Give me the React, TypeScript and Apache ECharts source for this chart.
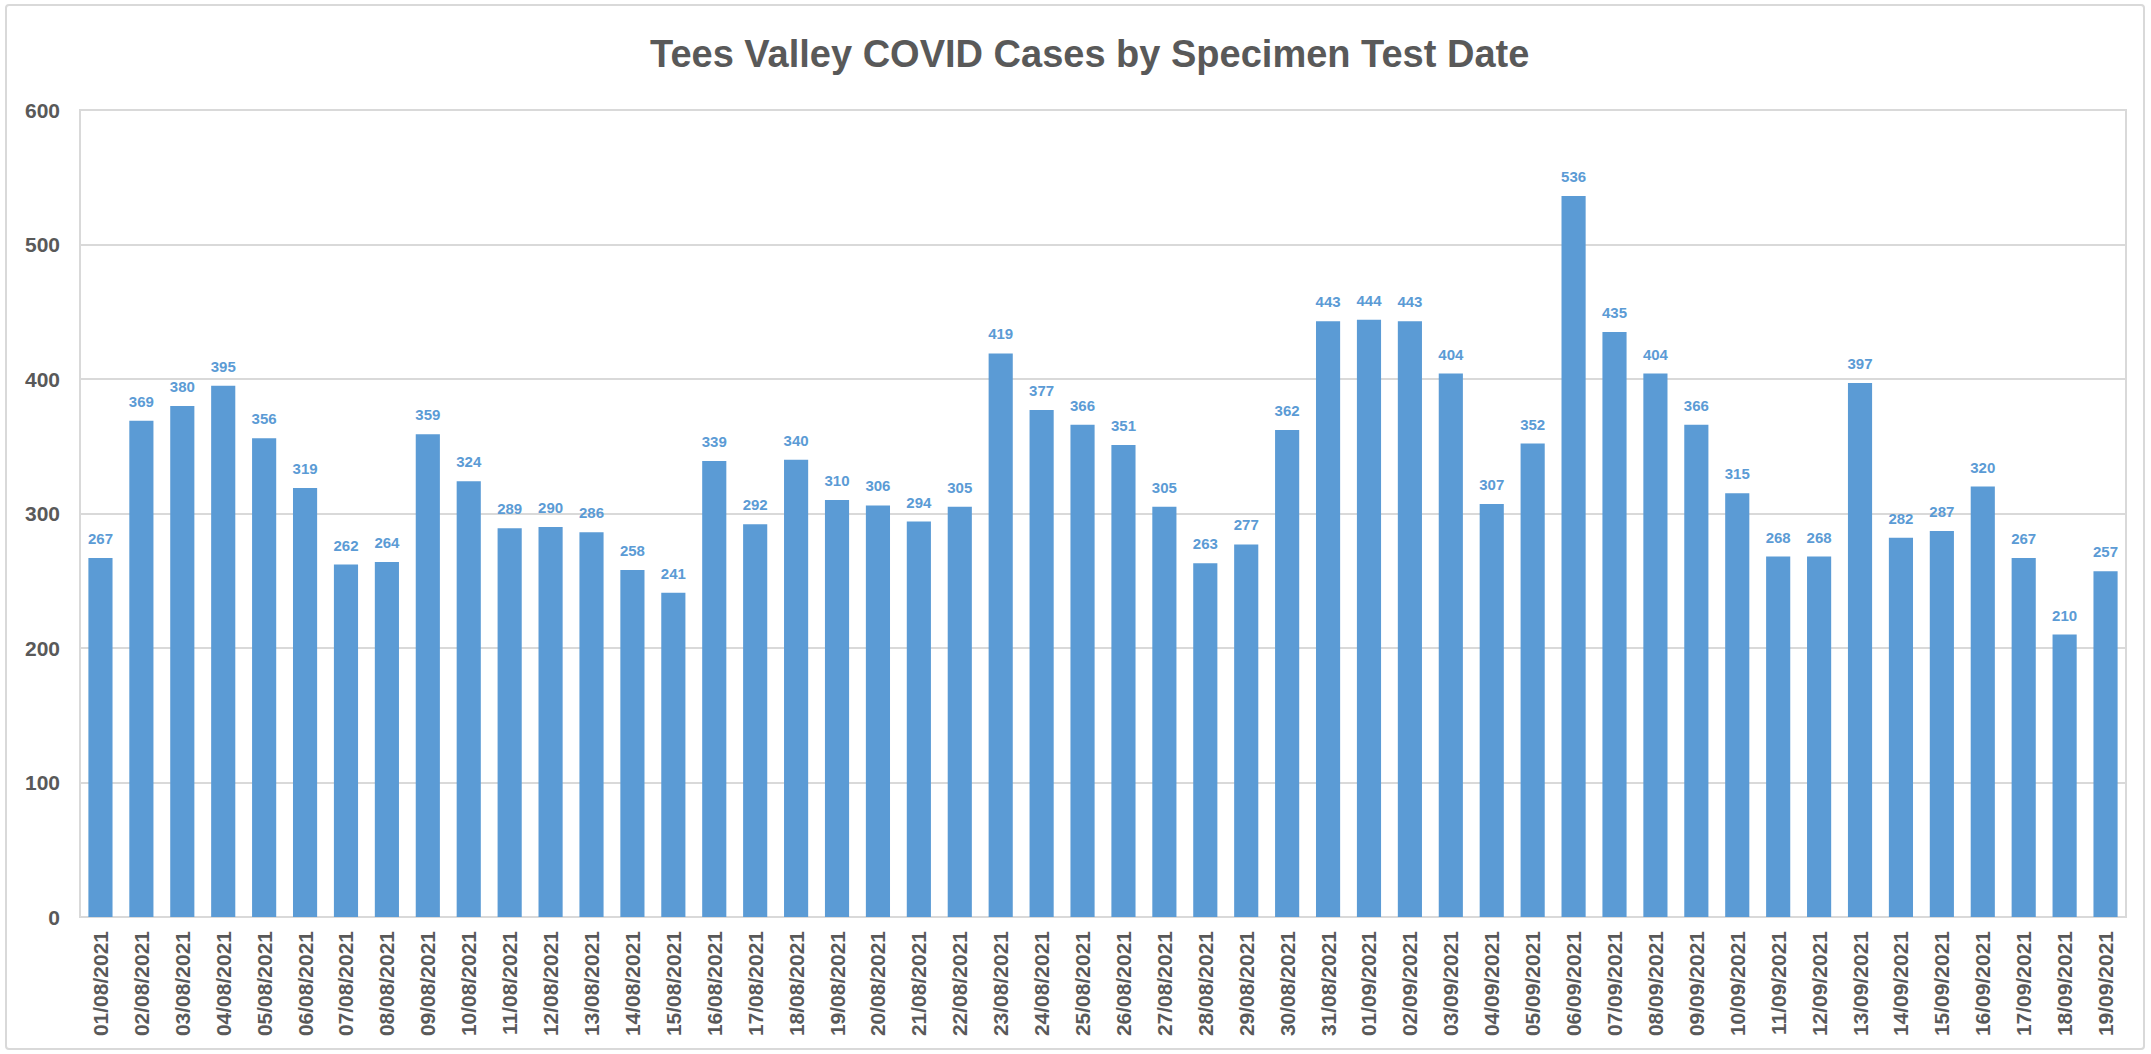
import React, { useEffect, useRef } from "react";
import * as echarts from "echarts";

const titleText = "Tees Valley COVID Cases by Specimen Test Date";

const augDays = [
  "01/08/2021", "02/08/2021", "03/08/2021", "04/08/2021", "05/08/2021", "06/08/2021", "07/08/2021",
  "08/08/2021", "09/08/2021", "10/08/2021", "11/08/2021", "12/08/2021", "13/08/2021", "14/08/2021",
  "15/08/2021", "16/08/2021", "17/08/2021", "18/08/2021", "19/08/2021", "20/08/2021", "21/08/2021",
  "22/08/2021", "23/08/2021", "24/08/2021", "25/08/2021", "26/08/2021", "27/08/2021", "28/08/2021",
  "29/08/2021", "30/08/2021", "31/08/2021",
];
const sepDays = [
  "01/09/2021", "02/09/2021", "03/09/2021", "04/09/2021", "05/09/2021", "06/09/2021", "07/09/2021",
  "08/09/2021", "09/09/2021", "10/09/2021", "11/09/2021", "12/09/2021", "13/09/2021", "14/09/2021",
  "15/09/2021", "16/09/2021", "17/09/2021", "18/09/2021", "19/09/2021",
];
const categories = [...augDays, ...sepDays];

const augCases = [
  267, 369, 380, 395, 356, 319, 262, 264, 359, 324, 289, 290, 286, 258, 241, 339,
  292, 340, 310, 306, 294, 305, 419, 377, 366, 351, 305, 263, 277, 362, 443,
];
const sepCases = [
  444, 443, 404, 307, 352, 536, 435, 404, 366, 315, 268, 268, 397, 282, 287, 320, 267, 210, 257,
];
const cases = [...augCases, ...sepCases];

const yTicks = [0, 100, 200, 300, 400, 500, 600];

const FONT = "'Liberation Sans', Arial, sans-serif";

export default function App() {
  const ref = useRef<HTMLDivElement>(null);
  useEffect(() => {
    if (!ref.current) return;
    const chart = echarts.init(ref.current, undefined, { renderer: "svg" });
    chart.setOption({
      animation: false,
      backgroundColor: "#ffffff",
      textStyle: { fontFamily: FONT },
      title: {
        text: titleText,
        left: 645,
        top: 30,
        textStyle: { fontFamily: FONT, fontSize: 38, fontWeight: "bold", color: "#595959" },
      },
      graphic: [
        {
          type: "rect",
          shape: { x: 6, y: 5, width: 2138, height: 1044, r: 3 },
          style: { fill: "none", stroke: "#D9D9D9", lineWidth: 2 },
          silent: true,
        },
      ],
      grid: {
        left: 80,
        right: 25,
        top: 110,
        bottom: 137,
        show: true,
        borderColor: "#D9D9D9",
        borderWidth: 2,
        containLabel: false,
      },
      xAxis: {
        type: "category",
        data: categories,
        axisLine: { show: true, lineStyle: { color: "#D9D9D9", width: 2 } },
        axisTick: { show: false },
        axisLabel: {
          rotate: 90,
          interval: 0,
          margin: 14,
          color: "#595959",
          fontWeight: "bold",
          fontSize: 21,
          fontFamily: FONT,
        },
      },
      yAxis: {
        type: "value",
        min: yTicks[0],
        max: yTicks[yTicks.length - 1],
        interval: 100,
        axisLine: { show: true, lineStyle: { color: "#D9D9D9", width: 2 } },
        axisTick: { show: false },
        splitLine: { show: true, lineStyle: { color: "#D9D9D9", width: 2 } },
        axisLabel: {
          color: "#595959",
          fontWeight: "bold",
          fontSize: 21,
          margin: 20,
          fontFamily: FONT,
        },
      },
      series: [
        {
          type: "bar",
          data: cases,
          barCategoryGap: "41%",
          itemStyle: { color: "#5B9BD5" },
          label: {
            show: true,
            position: "top",
            distance: 12,
            color: "#5B9BD5",
            fontWeight: "bold",
            fontSize: 15,
            fontFamily: FONT,
          },
        },
      ],
    });
    return () => chart.dispose();
  }, []);
  return (
    <div
      ref={ref}
      style={{ position: "fixed", left: 0, top: 0, width: 2151, height: 1054, background: "#fff" }}
    />
  );
}
